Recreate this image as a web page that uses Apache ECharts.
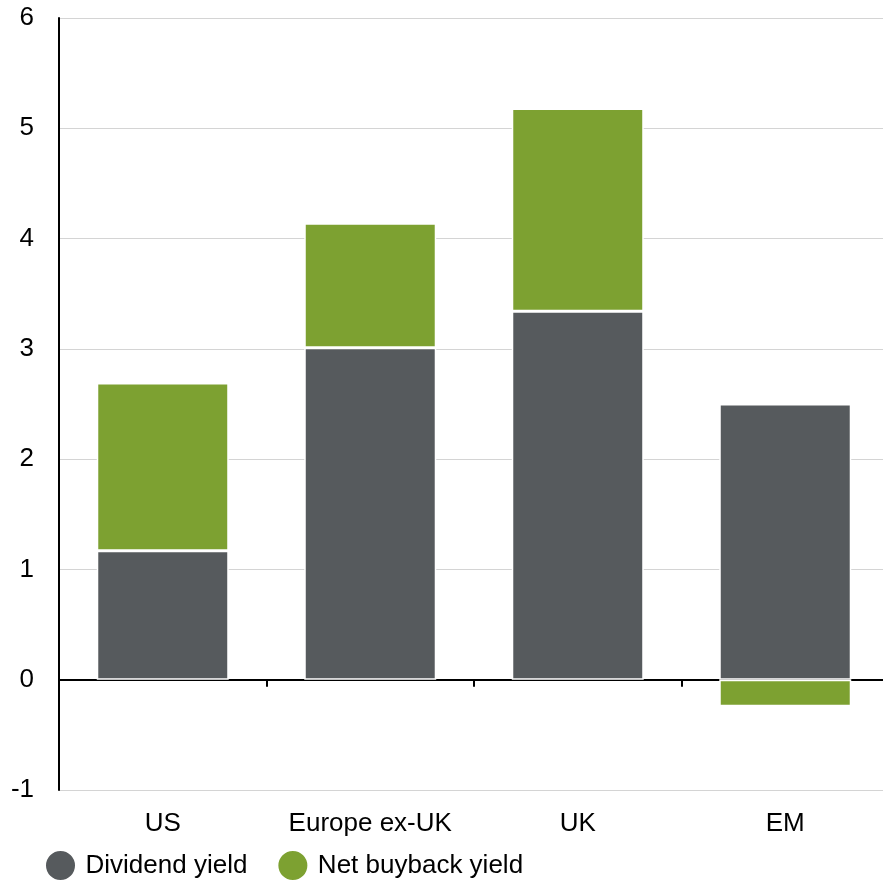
<!DOCTYPE html>
<html><head><meta charset="utf-8">
<script src="https://cdn.jsdelivr.net/npm/echarts@6/dist/echarts.min.js"></script>
<style>html,body{margin:0;padding:0;background:#fff;overflow:hidden;width:883px;height:882px}#c{width:889px;height:882px}</style>
</head><body><div id="c"></div>
<script>
const categories = ["US", "Europe ex-UK", "UK", "EM"];
const dividendYield = [1.17, 3.01, 3.34, 2.50];
const netBuybackYield = [1.52, 1.13, 1.84, -0.24];
const yTicks = { min: -1, max: 6, interval: 1 };

const FONT = "Liberation Sans, Arial, sans-serif";
const chart = echarts.init(document.getElementById('c'));
chart.setOption({
  animation: false,
  grid: { left: 59, right: 0, top: 18, bottom: 92, containLabel: false },
  legend: {
    left: 44, top: 849, padding: 0, icon: 'circle', itemWidth: 40, itemHeight: 31, itemGap: 29,
    textStyle: { fontFamily: FONT, fontSize: 26, color: '#000' },
    data: ['Dividend yield', 'Net buyback yield']
  },
  xAxis: [
    { type: 'category', data: categories, position: 'bottom',
      axisLine: { onZero: true, lineStyle: { color: '#000', width: 2 } },
      axisTick: { show: true, length: 7, lineStyle: { color: '#000', width: 2 } },
      axisLabel: { show: false }, splitLine: { show: false } },
    { type: 'category', data: categories, position: 'bottom',
      axisLine: { show: false, onZero: false }, axisTick: { show: false },
      axisLabel: { show: true, interval: 0, margin: 21, fontFamily: FONT, fontSize: 26, color: '#000' } }
  ],
  yAxis: {
    type: 'value', min: yTicks.min, max: yTicks.max, interval: yTicks.interval,
    axisLine: { show: true, lineStyle: { color: '#000', width: 2 } },
    axisTick: { show: false },
    axisLabel: { margin: 25, fontFamily: FONT, fontSize: 26, color: '#000' },
    splitLine: { show: true, lineStyle: { color: '#d4d4d4', width: 1 } }
  },
  series: [
    { name: 'Dividend yield', type: 'bar', stack: 'a', data: dividendYield, barCategoryGap: '36.4%',
      itemStyle: { color: '#565A5D', borderColor: '#fff', borderWidth: 1.5 } },
    { name: 'Net buyback yield', type: 'bar', stack: 'a', data: netBuybackYield, barCategoryGap: '36.4%',
      itemStyle: { color: '#7DA131', borderColor: '#fff', borderWidth: 1.5 } }
  ]
});
</script></body></html>
